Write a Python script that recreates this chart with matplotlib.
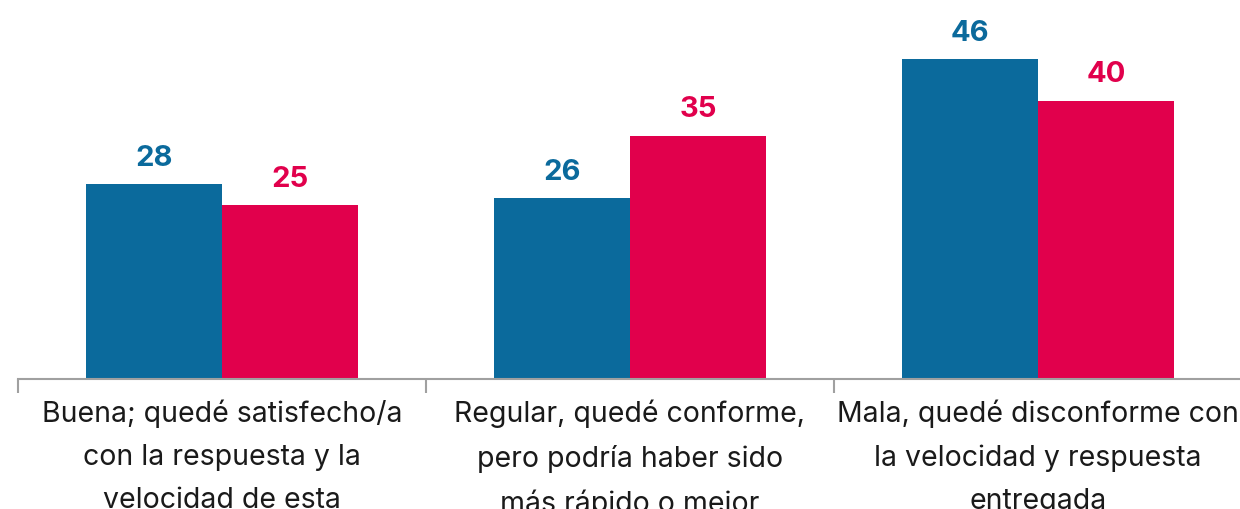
import matplotlib.pyplot as plt
import numpy as np

categorias = ['Buena; quedé satisfecho/a\ncon la respuesta y la\nvelocidad de esta',
              'Regular, quedé conforme,\npero podría haber sido\nmás rápido o mejor',
              'Mala, quedé disconforme con\nla velocidad y respuesta\nentregada']
serie_azul = [28, 26, 46]
serie_roja = [25, 35, 40]

azul = '#0b6a9c'
rojo = '#e1004c'

plt.rcParams['font.family'] = ['Inter', 'DejaVu Sans']

fig = plt.figure(figsize=(12.4, 5.09), dpi=100)
ax = fig.add_axes([18 / 1240, 130 / 509, 1224 / 1240, 379 / 509])

x = np.arange(len(categorias))
w = 1 / 3
b1 = ax.bar(x - w / 2, serie_azul, width=w, color=azul)
b2 = ax.bar(x + w / 2, serie_roja, width=w, color=rojo)

ax.bar_label(b1, padding=9, color=azul, fontsize=21, fontweight='bold')
ax.bar_label(b2, padding=9, color=rojo, fontsize=21, fontweight='bold')

ax.set_xlim(-0.5, 2.5)
ax.set_ylim(0, 54.5)
ax.set_yticks([])
for s in ['top', 'right', 'left']:
    ax.spines[s].set_visible(False)
ax.spines['bottom'].set_color('#a0a0a0')
ax.spines['bottom'].set_linewidth(1.5)

ax.set_xticks(x)
ax.set_xticklabels(categorias, fontsize=20.5, color='#1a1a1a', linespacing=1.75)
ax.tick_params(axis='x', which='major', length=0, pad=15)
ax.set_xticks([-0.5, 0.5, 1.5, 2.5], minor=True)
ax.tick_params(axis='x', which='minor', length=10, width=1.5, color='#a0a0a0')

fig.savefig('out.png', dpi=100)
